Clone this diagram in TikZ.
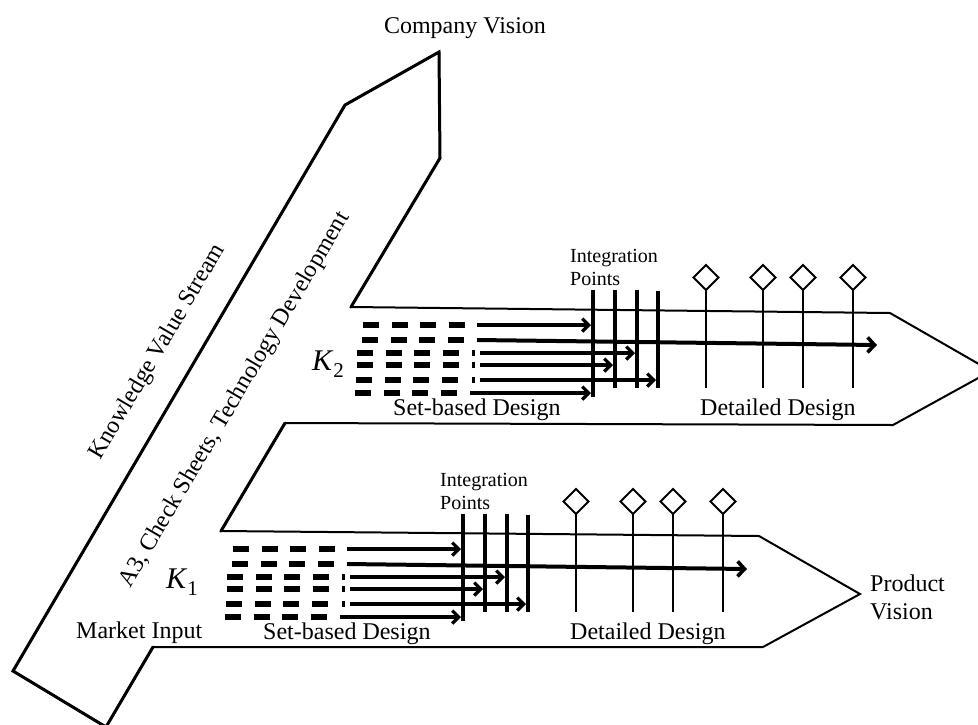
\documentclass[tikz,border=0pt]{standalone}
\usepackage{fontspec}
\setmainfont{Liberation Serif}
\usetikzlibrary{arrows.meta}
\begin{document}
\begin{tikzpicture}[x=1pt,y=-1pt,
  outline/.style={line width=2pt, line join=miter},
  heavy/.style={line width=3pt, line join=miter, line cap=round},
  flow/.style={line width=3.4pt, -{Straight Barb[length=6.5pt,width=13pt,line width=3.2pt]}},
  longflow/.style={line width=4pt, -{Straight Barb[length=7pt,width=15pt,line width=3.6pt]}},
  dashbar/.style={line width=5.2pt},
  ipline/.style={line width=3.4pt},
  stem/.style={line width=2.4pt},
  gate/.style={line width=1.8pt, fill=white, line join=miter},
  lbl/.style={font=\fontsize{24}{28}\selectfont, inner sep=0pt},
  small/.style={font=\fontsize{20}{23}\selectfont, inner sep=0pt},
  kl/.style={font=\fontsize{30}{32}\selectfont, inner sep=0pt}
]
\useasboundingbox (0,0) rectangle (978,724);
\begin{scope}
\clip (0,0) rectangle (978,724);
% overall outline: knowledge value stream with two product arrows
\draw[outline] (345,105) -- (439,52) -- (440,158) -- (351,307) -- (890,313)
  -- (991,371) -- (893,425) -- (285,423) -- (221,531) -- (759,536)
  -- (860,594) -- (763,647) -- (153,647) -- (106,727) -- (13,671) -- cycle;
% heavier diagonal strokes of the knowledge value stream
\draw[heavy] (351,307) -- (440,158) -- (439,52) -- (345,105) -- (13,671) -- (106,727) -- (153,647);
\draw[heavy] (285,423) -- (221,531);

\foreach \dx/\dy/\n in {0/0/u, -130/224/l}{
\begin{scope}[shift={(\dx,\dy)}]
  % dashed option rows
  \foreach \y/\xo in {325/363, 340/362, 353/357, 365/357, 380/356, 393/355}{
    \foreach \k in {0,1,2,3}{
      \draw[dashbar] ({\xo+\k*28.7},\y) -- ++(16,0);
    }
  }
  \foreach \y in {353,365,380}{
    \fill (472,\y-3) rectangle (474.5,\y+3);
  }
  % integration lines
  \draw[ipline] (593,290) -- (593,397);
  \draw[ipline] (615,290) -- (615,388);
  \draw[ipline] (637,290) -- (637,388);
  \draw[ipline] (658,291) -- (658,388);
  % set arrows
  \draw[flow] (477,325) -- (591,325);
  \draw[longflow] (477,340) -- (877,345);
  \draw[flow] (480,353) -- (635,353);
  \draw[flow] (480,365) -- (613,365);
  \draw[flow] (480,380) -- (656,380);
  \draw[flow] (470,393) -- (591,393);
  % detailed design gates
  \foreach \x in {706,763,803,853}{
    \draw[stem] (\x,290) -- (\x,388);
    \draw[gate] (\x,265) -- (\x+12.5,277.5) -- (\x,290) -- (\x-12.5,277.5) -- cycle;
  }
  % labels
  \node[small, anchor=base west] (int\n) at (570,262) {Integration};
  \node[small, anchor=base west] (pts\n) at (570,285) {Points};
  \node[lbl, anchor=base west] (sbd\n) at (393,415) {Set-based Design};
  \node[lbl, anchor=base west] (dd\n) at (700,415) {Detailed Design};
\end{scope}
}
\end{scope}

\node[kl] (k2) at (328,364) {\textit{K}\raisebox{-0.22em}{\fontsize{21}{21}\selectfont 2}};
\node[kl] (k1) at (182,582) {\textit{K}\raisebox{-0.22em}{\fontsize{21}{21}\selectfont 1}};
\node[lbl, anchor=base west] (mi) at (76,638) {Market Input};
\node[lbl, anchor=base] (cv) at (465,33) {Company Vision};
\node[lbl, anchor=base west] (pv1) at (870,591) {Product};
\node[lbl, anchor=base west] (pv2) at (870,619) {Vision};
\node[lbl, rotate=59.5] (kvs) at (158,352) {Knowledge Value Stream};
\node[lbl, rotate=59.5] (a3) at (235,400) {A3, Check Sheets, Technology Development};
\end{tikzpicture}
\end{document}
